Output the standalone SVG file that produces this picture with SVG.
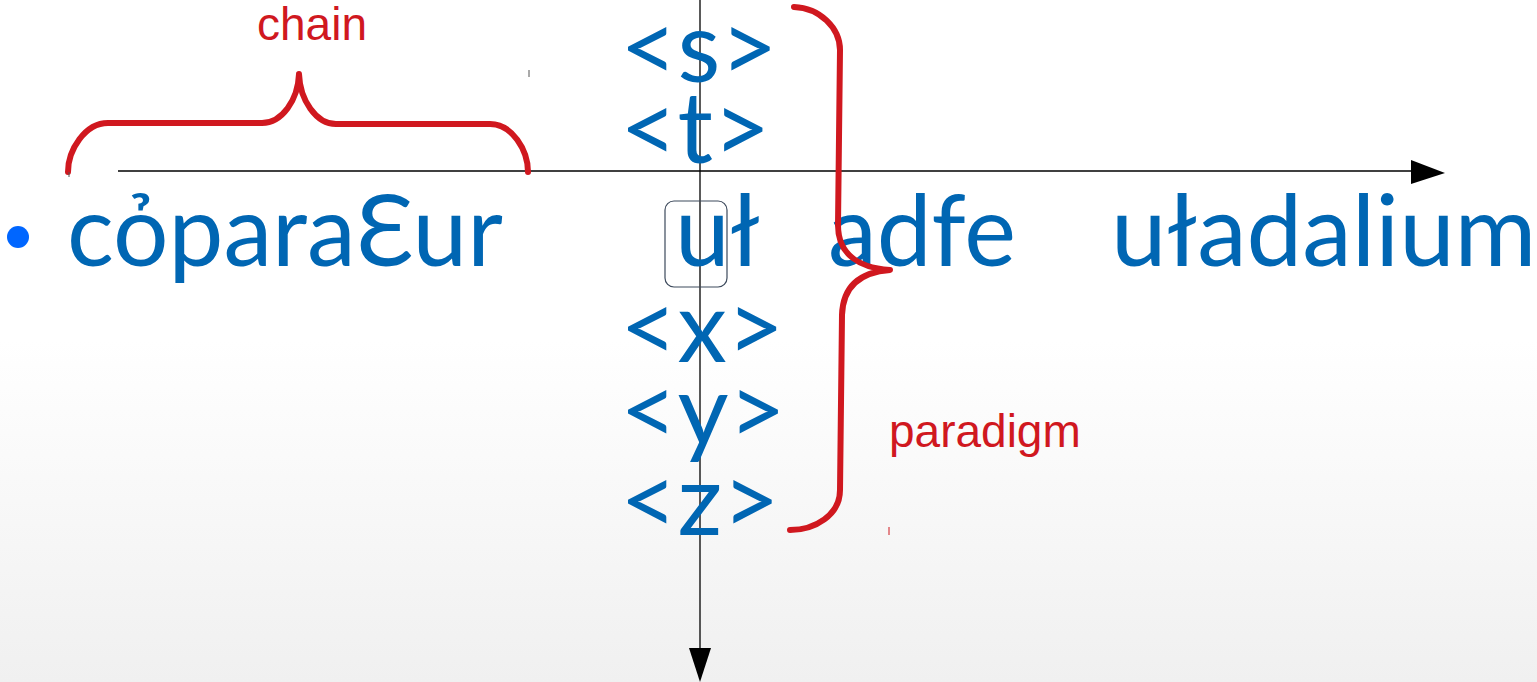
<svg xmlns="http://www.w3.org/2000/svg" width="1537" height="682" viewBox="0 0 1537 682">
<defs>
<linearGradient id="bg" x1="0" y1="0" x2="0" y2="1">
<stop offset="0" stop-color="#ffffff"/>
<stop offset="0.5" stop-color="#ffffff"/>
<stop offset="1" stop-color="#f0f0f0"/>
</linearGradient>
<style>
.blue{font-family:Lato,"Open Sans","DejaVu Sans",sans-serif;fill:#0066b3;font-size:98px}
.sym{font-family:Lato,"Open Sans","DejaVu Sans",sans-serif;fill:#0066b3;font-size:99px}
.red{font-family:"Liberation Sans",Arial,sans-serif;fill:#d0181f;font-size:46px}
.brace{fill:none;stroke:#d0181f;stroke-width:6;stroke-linecap:round;stroke-linejoin:round}
.axis{stroke:#000;stroke-width:1.3;fill:none}
</style>
</defs>
<rect width="1537" height="682" fill="url(#bg)"/>
<g id="connectors">
<line class="axis" x1="118" y1="171" x2="1411" y2="171"/>
<path d="M1411,160 L1445,173 L1411,184 Z" fill="#000"/>
<line class="axis" x1="700" y1="0" x2="700" y2="648"/>
<path d="M689,648 L700,682 L711,648 Z" fill="#000"/>
</g>
<g id="bullet"><circle cx="18" cy="237" r="11" fill="#0066ff"/></g>
<g id="chain-word"><text class="blue" x="67" y="266">cỏparaƐur</text></g>
<g id="box">
<rect x="665" y="201" width="62" height="86" rx="9" fill="none" stroke="#3d4a5c" stroke-width="1.2"/>
</g>
<g id="ul"><text class="blue" x="675" y="266">uł</text></g>
<g id="adfe"><text class="blue" x="828" y="266">adfe</text></g>
<g id="uladalium"><text class="blue" x="1111" y="266" style="font-size:99.5px">uładalium</text></g>
<g id="s"><text class="sym" x="620" y="82">&lt;s&gt;</text></g>
<g id="t"><text class="sym" x="620" y="163">&lt;t&gt;</text></g>
<g id="x"><text class="sym" x="620" y="362">&lt;x&gt;</text></g>
<g id="y"><text class="sym" x="620" y="445">&lt;y&gt;</text></g>
<g id="z"><text class="sym" x="620" y="535">&lt;z&gt;</text></g>
<g id="chain-brace">
<path class="brace" d="M68,172 C68,150 85,123 108,123 L262,123 C282,123 298,100 299,74 C300,100 316,124 336,124 L490,124 C512,124 528,150 528,172"/>
<text class="red" x="257" y="40">chain</text>
</g>
<g id="paradigm-brace">
<path class="brace" d="M794,7 C820,8 840,28 840,50 L838,225 C838,255 860,268 890,270 C862,272 843,285 842,315 L840,490 C840,515 815,530 790,530"/>
<text class="red" x="889" y="447">paradigm</text>
</g>
<g id="ticks">
<line x1="529" y1="70" x2="529" y2="77" stroke="#555" stroke-width="1"/>
<line x1="889" y1="527" x2="889" y2="535" stroke="#d0181f" stroke-width="1"/>
<line x1="69" y1="172" x2="69" y2="177" stroke="#555" stroke-width="1"/>
</g>
</svg>
